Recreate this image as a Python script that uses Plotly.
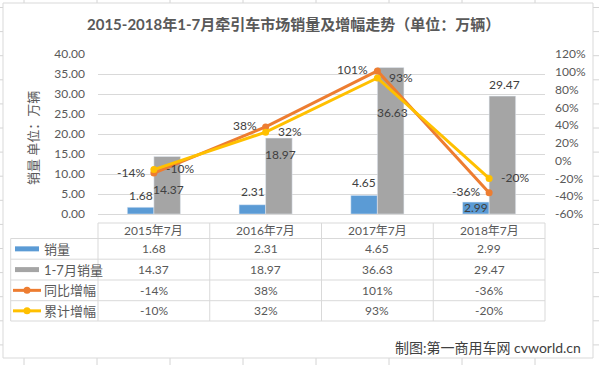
import plotly.graph_objects as go

# ---- data ----
categories = ["2015年7月", "2016年7月", "2017年7月", "2018年7月"]
monthly_sales = [1.68, 2.31, 4.65, 2.99]          # 销量 (万辆)
ytd_sales = [14.37, 18.97, 36.63, 29.47]          # 1-7月销量 (万辆)
yoy_growth = [-14, 38, 101, -36]                  # 同比增幅 (%)
ytd_growth = [-10, 32, 93, -20]                   # 累计增幅 (%)
series_names = ["销量", "1-7月销量", "同比增幅", "累计增幅"]
left_ticks = [0, 5, 10, 15, 20, 25, 30, 35, 40]
right_ticks = [-60, -40, -20, 0, 20, 40, 60, 80, 100, 120]

# ---- style ----
BLUE, GRAY, ORANGE, YELLOW = "#5b9bd5", "#a5a5a5", "#ed7d31", "#ffc000"
GRID = "#d9d9d9"
TXT = "#595959"
LBL = "#404040"
FONT = "Lato, 'Noto Sans CJK SC', sans-serif"

W, H = 599, 365
L, R, T, B = 98, 545, 54, 214


def X(px):
    return (px - L) / (R - L)


def Y(py):
    return (B - py) / (B - T)


def note(x, y, text, size=12, color=TXT, xanchor="center", **kw):
    return dict(x=x, y=y, xref="paper", yref="paper", showarrow=False, text=text,
                xanchor=xanchor, yanchor="middle", font=dict(size=size, color=color), **kw)


fig = go.Figure()
fig.add_bar(x=categories, y=monthly_sales, name=series_names[0], marker_color=BLUE)
fig.add_bar(x=categories, y=ytd_sales, name=series_names[1], marker_color=GRAY)
fig.add_scatter(x=categories, y=yoy_growth, yaxis="y2", name=series_names[2], mode="lines+markers",
                line=dict(color=ORANGE, width=3), marker=dict(color=ORANGE, size=7))
fig.add_scatter(x=categories, y=ytd_growth, yaxis="y2", name=series_names[3], mode="lines+markers",
                line=dict(color=YELLOW, width=3), marker=dict(color=YELLOW, size=7))

annotations = []
# bar data labels (offsets in px relative to bar top)
blue_off = [12, 13, 13, -5]
gray_off = [-33, -16, -45, 12]
for i, c in enumerate(categories):
    annotations.append(dict(x=c, y=monthly_sales[i], xref="x", yref="y", text=f"{monthly_sales[i]:.2f}",
                            showarrow=False, xshift=-13, yshift=blue_off[i], xanchor="center",
                            yanchor="middle", font=dict(size=12, color=LBL)))
    annotations.append(dict(x=c, y=ytd_sales[i], xref="x", yref="y", text=f"{ytd_sales[i]:.2f}",
                            showarrow=False, xshift=15, yshift=gray_off[i], xanchor="center",
                            yanchor="middle", font=dict(size=12, color=LBL)))
    # line labels
    annotations.append(dict(x=c, y=yoy_growth[i], xref="x", yref="y2", text=f"{yoy_growth[i]}%",
                            showarrow=False, xshift=-7, yshift=1, xanchor="right",
                            yanchor="middle", font=dict(size=12, color=LBL)))
    annotations.append(dict(x=c, y=ytd_growth[i], xref="x", yref="y2", text=f"{ytd_growth[i]}%",
                            showarrow=False, xshift=10, yshift=1, xanchor="left",
                            yanchor="middle", font=dict(size=12, color=LBL)))

# title, axis title, watermark
annotations.append(note(X(293), Y(24), "<b>2015-2018年1-7月牵引车市场销量及增幅走势（单位：万辆）</b>", size=15))
annotations.append(note(X(33), Y(138), "销量 单位：万辆", size=13, textangle=-90))
annotations.append(note(X(583), Y(347), "制图:第一商用车网 cvworld.cn", size=14, color=LBL, xanchor="right"))

# ---- data table ----
rows_y = [223, 238.5, 259.2, 280, 300.7, 321]
legend_left = 10.7
n = len(categories)
shapes = []

# sheet background gridlines
for vx in [24, 97, 170, 243, 316, 389, 462, 535]:
    shapes.append(dict(type="line", xref="paper", yref="paper", x0=X(vx), x1=X(vx), y0=Y(0), y1=Y(H),
                       line=dict(color="#d4d4d4", width=1), layer="below"))
for k in range(16):
    hy = 7.5 + 24.1 * k
    shapes.append(dict(type="line", xref="paper", yref="paper", x0=X(0), x1=X(W), y0=Y(hy), y1=Y(hy),
                       line=dict(color="#d4d4d4", width=1), layer="below"))
# chart area
shapes.append(dict(type="rect", xref="paper", yref="paper", x0=X(3), x1=X(593), y0=Y(3), y1=Y(358),
                   fillcolor="white", line=dict(color=GRID, width=1), layer="below"))

# table grid
shapes.append(dict(type="line", xref="paper", yref="paper", x0=0, x1=1, y0=Y(rows_y[0]), y1=Y(rows_y[0]),
                   line=dict(color=GRID, width=1)))
for ry in rows_y[1:]:
    shapes.append(dict(type="line", xref="paper", yref="paper", x0=X(legend_left), x1=1, y0=Y(ry), y1=Y(ry),
                       line=dict(color=GRID, width=1)))
for i in range(n + 1):
    shapes.append(dict(type="line", xref="paper", yref="paper", x0=i / n, x1=i / n,
                       y0=Y(rows_y[0]), y1=Y(rows_y[-1]), line=dict(color=GRID, width=1)))
shapes.append(dict(type="line", xref="paper", yref="paper", x0=X(legend_left), x1=X(legend_left),
                   y0=Y(rows_y[1]), y1=Y(rows_y[-1]), line=dict(color=GRID, width=1)))

# header row
for i, c in enumerate(categories):
    annotations.append(note((i + 0.5) / n, Y(230.5), c))

table_rows = [
    [f"{v:.2f}" for v in monthly_sales],
    [f"{v:.2f}" for v in ytd_sales],
    [f"{v}%" for v in yoy_growth],
    [f"{v}%" for v in ytd_growth],
]
colors = [BLUE, GRAY, ORANGE, YELLOW]
for r in range(4):
    cy = (rows_y[r + 1] + rows_y[r + 2]) / 2
    for i in range(n):
        annotations.append(note((i + 0.5) / n, Y(cy), table_rows[r][i]))
    annotations.append(note(X(42), Y(cy), series_names[r], size=13, xanchor="left"))
    if r < 2:
        shapes.append(dict(type="rect", xref="paper", yref="paper", x0=X(15), x1=X(39),
                           y0=Y(cy - 2.5), y1=Y(cy + 2.5), fillcolor=colors[r], line=dict(width=0)))
    else:
        shapes.append(dict(type="line", xref="paper", yref="paper", x0=X(13), x1=X(41),
                           y0=Y(cy), y1=Y(cy), line=dict(color=colors[r], width=3)))
        shapes.append(dict(type="circle", xref="paper", yref="paper", x0=X(23.5), x1=X(30.5),
                           y0=Y(cy + 3.5), y1=Y(cy - 3.5), fillcolor=colors[r], line=dict(width=0)))

fig.update_layout(
    width=W, height=H,
    margin=dict(l=L, r=W - R, t=T, b=H - B, pad=0),
    paper_bgcolor="white", plot_bgcolor="rgba(0,0,0,0)",
    font=dict(family=FONT, size=12, color=TXT),
    barmode="group", bargap=0.525, bargroupgap=0,
    showlegend=False,
    xaxis=dict(showticklabels=False, showgrid=False, showline=True, linecolor=GRID, ticks="",
               range=[-0.5, len(categories) - 0.5]),
    yaxis=dict(range=[0, 40], tickvals=left_ticks, tickformat=".2f", showgrid=True, gridcolor=GRID,
               zeroline=False, showline=False, ticklabelstandoff=12,
               tickfont=dict(size=12, color=TXT)),
    yaxis2=dict(range=[-60, 120], tickvals=right_ticks, ticktext=[f"{v}%" for v in right_ticks],
                overlaying="y", side="right",
                showgrid=False, zeroline=False, showline=False, ticklabelstandoff=9,
                tickfont=dict(size=12, color=TXT)),
    annotations=annotations,
    shapes=shapes,
)

fig.write_html("out.html", config={"displayModeBar": False},
               post_script="document.body.style.margin='0';document.body.style.overflow='hidden';")
